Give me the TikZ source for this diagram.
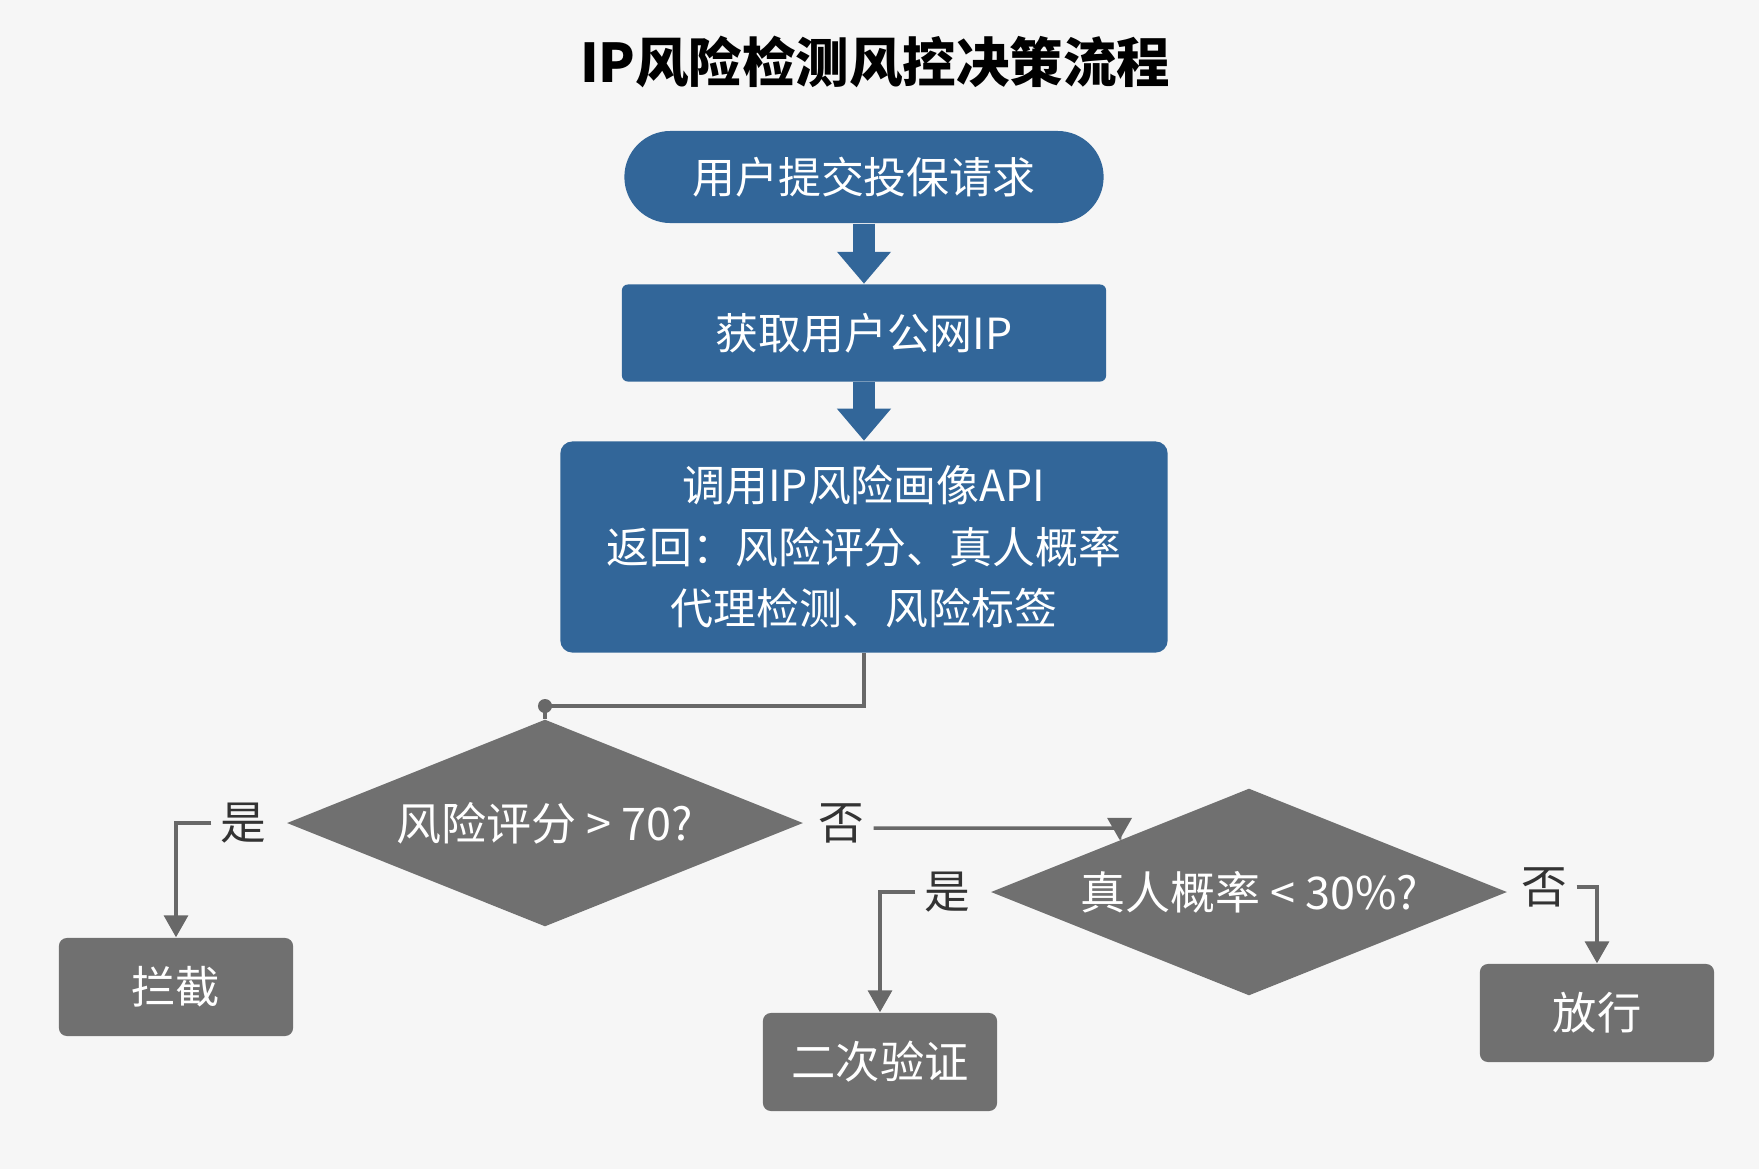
\documentclass[tikz,border=0pt]{standalone}
\usepackage{fontspec}
\setmainfont{Noto Sans CJK SC}
\usetikzlibrary{positioning,shapes.geometric,arrows.meta}
\definecolor{flowblue}{RGB}{50,102,153}
\definecolor{boxgray}{RGB}{112,112,112}
\definecolor{linegray}{RGB}{104,104,104}
\definecolor{labelgray}{RGB}{51,51,51}
\definecolor{paper}{RGB}{246,246,246}

\begin{document}
\begin{tikzpicture}[
  x=0.01cm, y=-0.01cm,
  node distance=0.1cm and 0.1cm,
  bluebox/.style={fill=flowblue,text=white,align=center,font=\fontsize{12.2}{17.5}\selectfont},
  graybox/.style={fill=boxgray,text=white,font=\fontsize{12.6}{15}\selectfont,rounded corners=0.08cm,minimum width=2.34cm,minimum height=0.98cm},
  decide/.style={diamond,aspect=2.5,fill=boxgray,text=white,inner sep=0pt,font=\fontsize{12.8}{15}\selectfont,minimum width=5.16cm,minimum height=2.07cm},
  lbl/.style={text=labelgray,inner sep=2.5pt,font=\fontsize{13}{15}\selectfont},
  blockarrow/.style={flowblue,line width=0.21cm,-{Triangle[width=0.52cm,length=0.32cm]}},
  conn/.style={linegray,line width=0.035cm,-{Triangle[width=0.24cm,length=0.22cm]}}
]
\useasboundingbox[fill=paper] (0,0) rectangle (1759,1169);

\node[font=\fontsize{15.2}{18}\selectfont\bfseries] (title) at (875,62) {IP风险检测风控决策流程};

% main chain
\node[bluebox,rounded corners=0.46cm,minimum width=4.79cm,minimum height=0.92cm] (req) at (864,177) {用户提交投保请求};
\node[bluebox,rounded corners=0.06cm,minimum width=4.84cm,minimum height=0.97cm] (ip) at (864,333) {获取用户公网IP};
\node[bluebox,rounded corners=0.12cm,minimum width=6.07cm,minimum height=2.11cm] (api) at (864,547) {调用IP风险画像API\\返回：风险评分、真人概率\\代理检测、风险标签};

% decisions
\node[decide] (score) at (545,823) {风险评分 > 70?};
\node[decide] (real) at (1249,892) {真人概率 < 30\%?};

% outcomes
\node[graybox] (block) at (176,987) {拦截};
\node[graybox] (verify) at (880,1062) {二次验证};
\node[graybox] (pass) at (1597,1013) {放行};

\node[lbl,left=of score.west] (yes1) {是};
\node[lbl,right=0.05cm of score.east] (no1) {否};
\node[lbl,left=of real.west] (yes2) {是};
\node[lbl,right=0.04cm of real.east,yshift=0.05cm] (no2) {否};

\draw[blockarrow] (req) -- (ip);
\draw[blockarrow] (ip) -- (api);
\coordinate (kink) at (545,706);
\draw[linegray,line width=0.035cm] (api.south) |- (kink) -- (score.north);
\fill[linegray] (kink) circle (0.07cm);
\draw[conn] (yes1.west) -| (block.north);
\draw[conn,rounded corners=0.05cm] ([yshift=-0.05cm]no1.east) -| (real.north west);
\draw[conn] (yes2.west) -| (verify.north);
\draw[conn] (no2.east) -| (pass.north);
\end{tikzpicture}
\end{document}
